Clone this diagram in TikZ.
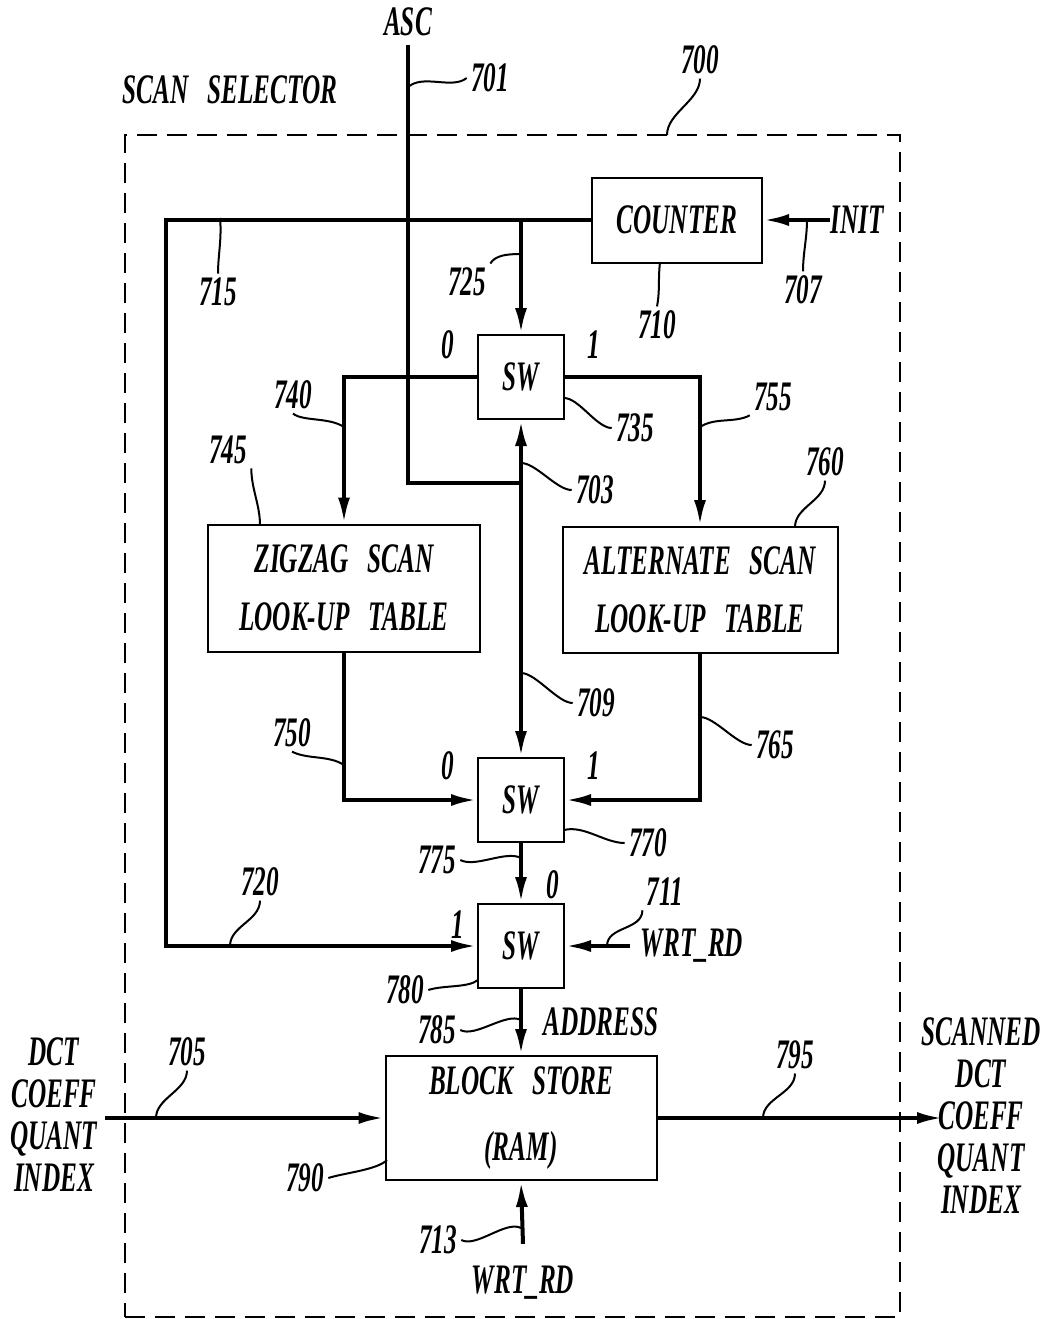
\documentclass[tikz,border=0pt]{standalone}
\usepackage{fontspec}
\setmainfont{Liberation Serif}[FakeStretch=0.6]
\usetikzlibrary{arrows.meta}
\newcommand\patfont{\bfseries\itshape\fontsize{21}{21}\selectfont\spaceskip=0.45em}

\begin{document}
\begin{tikzpicture}[x=0.5pt, y=-0.5pt,
  >={Latex[length=13pt,width=6pt]},
  font=\patfont,
  box/.style={draw, line width=1pt, inner sep=0pt, align=center},
  swbox/.style={box, minimum width=43pt, minimum height=42pt},
  lbl/.style={inner sep=2pt},
  wire/.style={line width=2pt},
  lead/.style={line width=1pt},
  frame/.style={draw, dash pattern=on 10pt off 5pt, line width=0.8pt, inner sep=0pt,
    minimum width=387.5pt, minimum height=591pt}]
\useasboundingbox (0,0) rectangle (1045,1319);

% Scan selector frame
\node[frame] (selector) at (512.5,726) {};
\node[lbl] (title) at (230,90) {SCAN SELECTOR};
\node[lbl] (n700) at (700,60) {700};

% Blocks
\node[box, minimum width=85pt, minimum height=42.5pt] (counter) at (677,220) {COUNTER};
\node[swbox] (sw1) at (521,377) {SW};
\node[box, minimum width=136pt, minimum height=63.5pt] (zigzag) at (344,588) {ZIGZAG SCAN\\[8pt]LOOK-UP TABLE};
\node[box, minimum width=137.5pt, minimum height=63pt] (alternate) at (700,590) {ALTERNATE SCAN\\[8pt]LOOK-UP TABLE};
\node[swbox] (sw2) at (521,800) {SW};
\node[swbox] (sw3) at (521,946) {SW};
\node[box, minimum width=135.5pt, minimum height=62pt] (block) at (521,1118) {BLOCK STORE\\[12pt](RAM)};

% Signal names
\node[inner sep=0pt] (asc) at (408,22) {ASC};
\node[inner sep=0pt] (init) at (857,220) {INIT};
\node[inner sep=0pt] (wrt1) at (692,946) {WRT\_RD};
\node[inner sep=0pt] (wrt2) at (523,1283) {WRT\_RD};
\node[lbl] (addr) at (601,1022) {ADDRESS};
\node[align=center] (dctin) at (54,1115) {DCT\\COEFF\\QUANT\\INDEX};
\node[align=center] (dctout) at (981,1116) {SCANNED\\DCT\\COEFF\\QUANT\\INDEX};

% Switch inputs
\node (s1zero) at (448,345) {0};
\node (s1one) at (594,345) {1};
\node (s2zero) at (448,766) {0};
\node (s2one) at (594,766) {1};
\node (s3zero) at (553,885) {0};
\node (s3one) at (458,925) {1};

% Wires
\coordinate (j703) at (521,483);
\coordinate (bend715) at (166,600);
\coordinate (in705) at (105,1118);
\coordinate (out795) at (943,1118);
\draw[wire] ([yshift=-4pt]asc.south) |- (j703);
\draw[wire,<->] (sw1.south) -- (sw2.north);
\draw[wire,->] (counter.west) -| (bend715) |- (sw3.west);
\draw[wire,->] (sw1.north |- counter.west) -- (sw1.north);
\draw[wire,->] (init.west) -- (counter.east);
\draw[wire,->] (sw1.west) -| (zigzag.north);
\draw[wire,->] (sw1.east) -| (alternate.north);
\draw[wire,->] (zigzag.south) |- (sw2.west);
\draw[wire,->] (alternate.south) |- (sw2.east);
\draw[wire,->] (sw2.south) -- (sw3.north);
\draw[wire,->] ([xshift=-5pt]wrt1.west) -- (sw3.east);
\draw[wire,->] (sw3.south) -- (block.north);
\draw[wire,->] ([yshift=11pt]wrt2.north) -- (block.south);
\draw[wire,->] (in705) -- (block.west);
\draw[wire,->] (block.east) -- (out795);

% Reference numerals
\node[lbl] (n701) at (490,78) {701};
\node[lbl] (n725) at (467,282) {725};
\node[lbl] (n710) at (657,325) {710};
\node[lbl] (n707) at (803,290) {707};
\node[lbl] (n715) at (218,292) {715};
\node[lbl] (n740) at (293,395) {740};
\node[lbl] (n745) at (228,450) {745};
\node[lbl] (n735) at (635,428) {735};
\node[lbl] (n703) at (595,490) {703};
\node[lbl] (n755) at (773,397) {755};
\node[lbl] (n760) at (825,462) {760};
\node[lbl] (n750) at (292,733) {750};
\node[lbl] (n709) at (596,703) {709};
\node[lbl] (n765) at (775,745) {765};
\node[lbl] (n770) at (648,843) {770};
\node[lbl] (n775) at (437,860) {775};
\node[lbl] (n720) at (260,882) {720};
\node[lbl] (n711) at (665,892) {711};
\node[lbl] (n780) at (405,990) {780};
\node[lbl] (n785) at (437,1030) {785};
\node[lbl] (n705) at (187,1052) {705};
\node[lbl] (n790) at (305,1178) {790};
\node[lbl] (n795) at (795,1055) {795};
\node[lbl] (n713) at (438,1240) {713};

% Leader touch points
\coordinate (t700) at (667,135);
\coordinate (t701) at (407,88);
\coordinate (t725) at (521,254);
\coordinate (t710) at (660,262);
\coordinate (t707) at (807,220);
\coordinate (t715) at (220,218);
\coordinate (t740) at (344,427);
\coordinate (t745) at (260,525);
\coordinate (t735) at (564,398);
\coordinate (t703) at (521,463);
\coordinate (t755) at (700,427);
\coordinate (t760) at (795,527);
\coordinate (t750) at (344,765);
\coordinate (t709) at (521,673);
\coordinate (t765) at (700,717);
\coordinate (t770) at (564,830);
\coordinate (t775) at (521,858);
\coordinate (t720) at (230,946);
\coordinate (t711) at (607,946);
\coordinate (t780) at (478,980);
\coordinate (t785) at (521,1020);
\coordinate (t705) at (156,1118);
\coordinate (t790) at (387,1160);
\coordinate (t795) at (763,1118);
\coordinate (t713) at (521,1228);

% Leaders
\draw[lead] (t700) .. controls +(0,-22) and +(0,22) .. (n700.south);
\draw[lead] (t701) .. controls +(15,-15) and +(-15,12) .. (n701.west);
\draw[lead] (t725) .. controls +(-15,0) and +(5,-8) .. (n725.north east);
\draw[lead] (t710) .. controls +(-2,18) and +(3,-15) .. (n710.north);
\draw[lead] (t707) .. controls +(0,18) and +(0,-18) .. (n707.north);
\draw[lead] (t715) .. controls +(2,20) and +(0,-18) .. (n715.north);
\draw[lead] (t740) .. controls +(-15,-10) and +(10,8) .. (n740.south);
\draw[lead] (t745) .. controls +(0,-20) and +(0,20) .. (n745.south east);
\draw[lead] (t735) .. controls +(15,0) and +(-15,0) .. (n735.west);
\draw[lead] (t703) .. controls +(15,0) and +(-15,0) .. (n703.west);
\draw[lead] (t755) .. controls +(15,-10) and +(-15,8) .. (n755.south west);
\draw[lead] (t760) .. controls +(0,-20) and +(0,20) .. (n760.south);
\draw[lead] (t750) .. controls +(-15,-10) and +(15,8) .. (n750.south);
\draw[lead] (t709) .. controls +(15,0) and +(-15,0) .. (n709.west);
\draw[lead] (t765) .. controls +(15,0) and +(-15,0) .. (n765.west);
\draw[lead] (t770) .. controls +(20,-5) and +(-20,0) .. (n770.west);
\draw[lead] (t775) .. controls +(-15,-8) and +(15,8) .. (n775.east);
\draw[lead] (t720) .. controls +(0,-20) and +(0,20) .. (n720.south);
\draw[lead] (t711) .. controls +(0,-20) and +(0,20) .. (n711.south west);
\draw[lead] (t780) .. controls +(-10,8) and +(15,-5) .. (n780.east);
\draw[lead] (t785) .. controls +(-15,-8) and +(15,8) .. (n785.east);
\draw[lead] (t705) .. controls +(0,-20) and +(0,20) .. (n705.south);
\draw[lead] (t790) .. controls +(-10,10) and +(15,-5) .. (n790.east);
\draw[lead] (t795) .. controls +(0,-20) and +(0,20) .. (n795.south);
\draw[lead] (t713) .. controls +(-15,-8) and +(15,8) .. (n713.east);
\end{tikzpicture}
\end{document}
